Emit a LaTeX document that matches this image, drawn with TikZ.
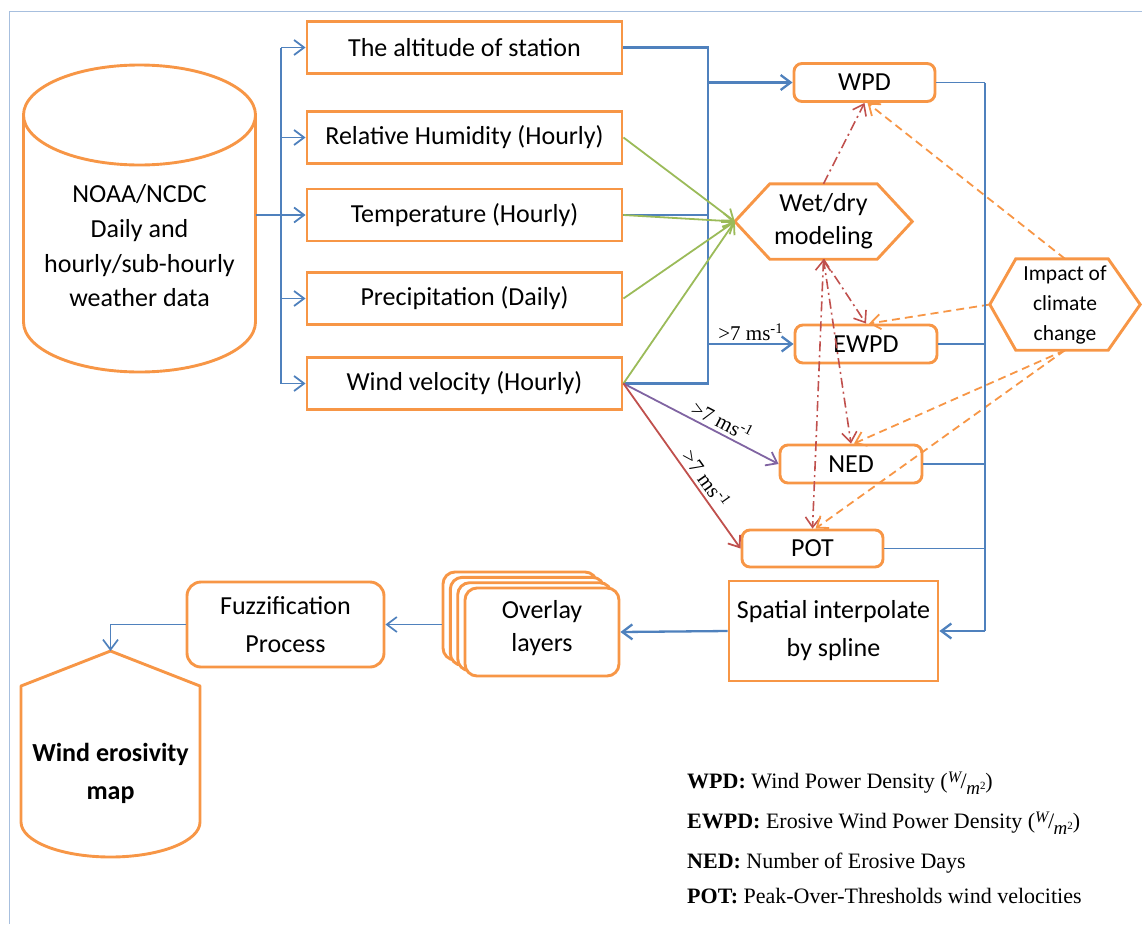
\documentclass[tikz,border=0pt]{standalone}
\usepackage{fontspec}
\setmainfont{Carlito}
\newfontfamily\legendfont{Liberation Serif}
\usetikzlibrary{arrows.meta,calc}
\definecolor{boxorange}{HTML}{F79646}
\definecolor{flowblue}{HTML}{4F81BD}
\definecolor{frameblue}{HTML}{A7BFDE}
\definecolor{flowgreen}{HTML}{9BBB59}
\definecolor{flowpurple}{HTML}{8064A2}
\definecolor{flowred}{HTML}{C0504D}
% unit W/m^2 written as a skewed fraction
\newcommand\wmunit{(\raisebox{6pt}{\fontsize{16}{16}\selectfont\itshape W}\kern-0.5pt/\kern-0.5pt\raisebox{-6pt}{\fontsize{19}{19}\selectfont\itshape m\raisebox{5pt}{\fontsize{11}{11}\selectfont\upshape 2}})}
\newcommand\thrlabel{>7 ms\textsuperscript{-1}}
\begin{document}
\begin{tikzpicture}[x=1pt,y=-1pt,
  txt/.style={font=\fontsize{26}{34}\selectfont, inner sep=0pt, align=center},
  databox/.style={txt, draw=boxorange, line width=2.9pt, minimum width=315pt, minimum height=52pt},
  resbox/.style={txt, draw=boxorange, line width=2.9pt, rounded corners=8pt, minimum width=141pt, minimum height=38pt},
  layerbox/.style={draw=boxorange, line width=2.9pt, fill=white, rounded corners=12pt, minimum width=154pt, minimum height=88pt},
  hexline/.style={draw=boxorange, line width=2.9pt, line join=miter},
  arrowend/.style={-{Straight Barb[length=10pt,width=15pt]}},
  flow/.style={draw=flowblue, line width=2.3pt},
  thinflow/.style={draw=flowblue, line width=1.7pt},
  greenflow/.style={draw=flowgreen, line width=1.8pt, arrowend},
  wetdash/.style={draw=flowred, line width=1.6pt, dash pattern=on 10pt off 4pt on 2pt off 4pt, arrowend},
  climdash/.style={draw=boxorange, line width=1.8pt, dash pattern=on 8pt off 5pt, arrowend},
  thr/.style={font=\legendfont\fontsize{21}{21}\selectfont, inner sep=1pt},
  legendline/.style={font=\legendfont\fontsize{22}{22}\selectfont, anchor=base west, inner sep=0pt},
]
\useasboundingbox (0,0) rectangle (1142,924);

% outer frame
\draw[frameblue, line width=1.5pt] (9.5,924) -- (9.5,11.5) -- (1142,11.5);

% data source cylinder
\draw[boxorange, line width=2.9pt] (139.5,115) ellipse [x radius=116, y radius=50];
\draw[boxorange, line width=2.9pt] (23.5,115) -- (23.5,322)
  arc[start angle=180, end angle=0, x radius=116, y radius=50] -- (255.5,115);
\node[txt, font=\fontsize{26}{34.7}\selectfont] (noaa) at (139.5,246)
  {NOAA/NCDC\\Daily and\\hourly/sub-hourly\\weather data};
\coordinate (noaaR) at (255.5,215);

% input variables
\node[databox] (alt)  at (464.5,47.5)  {The altitude of station};
\node[databox] (rh)   at (464.5,137.5) {Relative Humidity (Hourly)};
\node[databox] (temp) at (464.5,215)   {Temperature (Hourly)};
\node[databox] (prec) at (464.5,298.5) {Precipitation (Daily)};
\node[databox] (wind) at (464.5,383.5) {Wind velocity (Hourly)};

% distribution bus
\coordinate (lbus) at (281,0);
\draw[flow] (alt.west -| lbus) -- (wind.west -| lbus);
\draw[flow] (noaaR) -- (noaaR -| lbus);
\foreach \n in {alt,rh,temp,prec,wind}
  \draw[flow, line width=1.8pt, arrowend] (\n.west -| lbus) -- (\n.west);

% indices
\node[resbox] (wpd) at (864.5,82.5) {WPD};
\node[resbox, minimum width=142pt] (ewpd) at (866,344) {EWPD};
\node[resbox, minimum width=142pt] (ned) at (851,464) {NED};
\node[resbox, minimum height=37pt] (pot) at (812.5,548.5) {POT};

% wet/dry modeling hexagon
\node[txt, font=\fontsize{26}{33}\selectfont, minimum width=177pt, minimum height=75pt] (wet) at (823.5,221.5) {Wet/dry\\modeling};
\draw[hexline] (wet.west) -- ([xshift=35pt]wet.north west) -- ([xshift=-35pt]wet.north east)
  -- (wet.east) -- ([xshift=-35pt]wet.south east) -- ([xshift=35pt]wet.south west) -- cycle;

% climate change hexagon
\node[txt, font=\fontsize{21.5}{30}\selectfont, minimum width=150pt, minimum height=91pt] (imp) at (1065,304.5) {Impact of\\climate\\change};
\draw[hexline] (imp.west) -- ([xshift=26pt]imp.north west) -- ([xshift=-32pt]imp.north east)
  -- (imp.east) -- ([xshift=-32pt]imp.south east) -- ([xshift=26pt]imp.south west) -- cycle;

% collector to WPD / EWPD
\coordinate (mbus) at (708,0);
\draw[flow] (alt.east) -- (alt.east -| mbus) -- (wind.east -| mbus) -- (wind.east);
\draw[flow] (temp.east) -- (temp.east -| mbus);
\draw[flow, arrowend] (wpd.west -| mbus) -- (wpd.west);
\draw[flow, arrowend] (ewpd.west -| mbus) -- node[thr, above=1pt, pos=0.5]{\thrlabel} (ewpd.west);

% inputs of the wet/dry model
\foreach \n in {rh,temp,prec,wind}
  \draw[greenflow] (\n.east) -- (wet.west);

% thresholded wind velocity
\draw[draw=flowpurple, line width=1.8pt, arrowend] (wind.east) -- node[thr, sloped, above=2pt, pos=0.6]{\thrlabel} (ned.west);
\draw[draw=flowred, line width=1.8pt, arrowend] (wind.east) -- node[thr, sloped, above=2pt, pos=0.62]{\thrlabel} (pot.west);

% wet/dry links
\draw[wetdash] (wet.north) -- (wpd.south);
\draw[wetdash] (wet.south) -- (ewpd.north);
\draw[wetdash] (wet.south) -- (ned.north);
\draw[wetdash, {Straight Barb[length=10pt,width=15pt]}-{Straight Barb[length=10pt,width=15pt]}] (wet.south) -- (pot.north);

% climate change links
\draw[climdash] (imp.north) -- ([xshift=3pt]wpd.south);
\draw[climdash] (imp.west) -- ([xshift=3pt]ewpd.north);
\draw[climdash] (imp.south) -- ([xshift=3pt]ned.north);
\draw[climdash] (imp.south) -- ([xshift=3pt]pot.north);

% spatial interpolation
\node[txt, draw=boxorange, line width=2.9pt, minimum width=209pt, minimum height=100pt, font=\fontsize{26}{38}\selectfont] (spat) at (833.5,631) {Spatial interpolate\\by spline};
\coordinate (rbus) at (985,0);
\draw[thinflow] (wpd.east) -- (wpd.east -| rbus);
\draw[flow] (wpd.east -| rbus) -- (spat.east -| rbus);
\draw[flow, arrowend] (spat.east -| rbus) -- (spat.east);
\foreach \n in {ewpd,ned,pot}
  \draw[thinflow] (\n.east) -- (\n.east -| rbus);

% overlay layers (stack)
\node[layerbox] (ovl3) at (520,616) {};
\node[layerbox] (ovl2) at (527.3,621.3) {};
\node[layerbox] (ovl1) at (534.7,626.7) {};
\node[layerbox] (ovl) at (542,632) {};
\node[txt, font=\fontsize{26}{33}\selectfont] (ovltext) at (542,628) {Overlay\\layers};
\draw[flow, arrowend] (spat.west) -- (ovl.east);

% fuzzification
\node[txt, draw=boxorange, line width=2.9pt, rounded corners=14pt, minimum width=197pt, minimum height=85pt, font=\fontsize{26}{38}\selectfont] (fuzz) at (285.5,624.5) {Fuzzification\\Process};
\draw[thinflow, arrowend] (ovl3.west |- fuzz.east) -- (fuzz.east);

% output map
\coordinate (maptop) at (110.5,651);
\draw[boxorange, line width=2.9pt, line join=round] (maptop) -- (200,686) -- (200,822)
  arc[start angle=0, end angle=180, x radius=89.5, y radius=35] -- (21,686) -- cycle;
\node[txt, font=\bfseries\fontsize{26}{38}\selectfont] (map) at (110.5,773) {Wind erosivity\\map};
\draw[thinflow, arrowend] (fuzz.west) -- (fuzz.west -| maptop) -- (maptop);

% legend
\node[legendline] (lg1) at (687,788) {\textbf{WPD:} Wind Power Density \wmunit};
\node[legendline] (lg2) at (687,828) {\textbf{EWPD:} Erosive Wind Power Density \wmunit};
\node[legendline] (lg3) at (687,868) {\textbf{NED:} Number of Erosive Days};
\node[legendline] (lg4) at (687,903) {\textbf{POT:} Peak-Over-Thresholds wind velocities};
\end{tikzpicture}
\end{document}
